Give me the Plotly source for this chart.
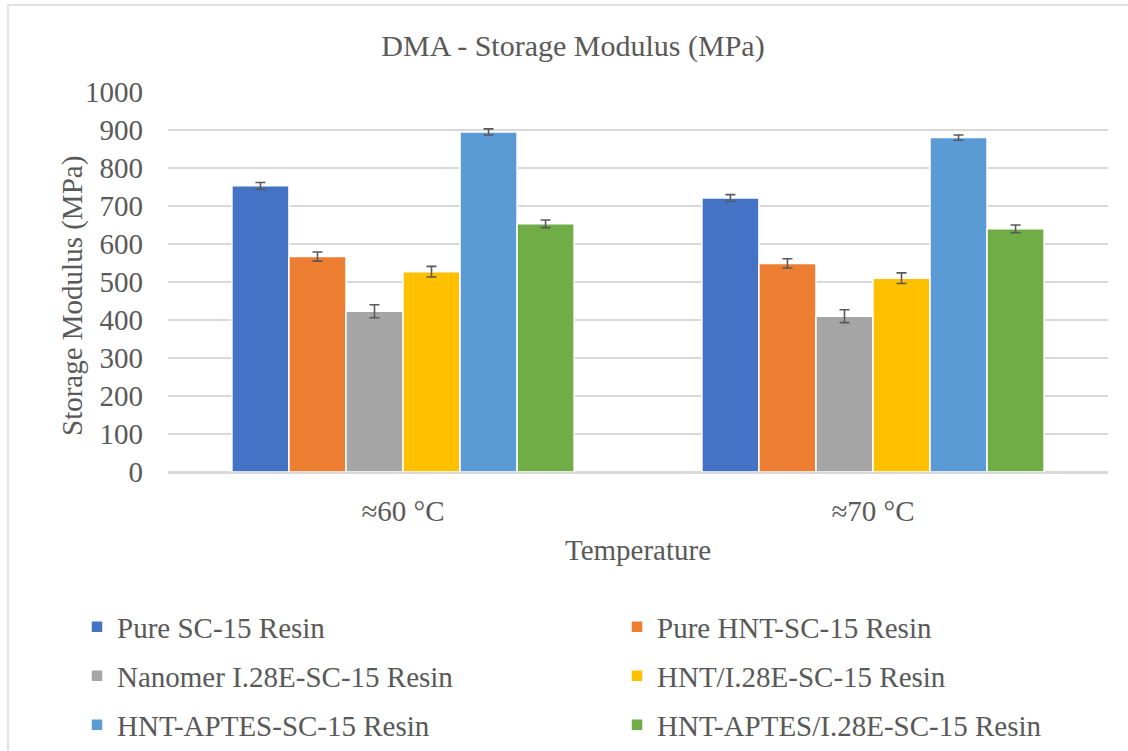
import plotly.graph_objects as go

# Storage modulus (MPa) at two test temperatures, with standard deviations
temperatures = ["≈60 °C", "≈70 °C"]
series_names = [
    "Pure SC-15 Resin",
    "Pure HNT-SC-15 Resin",
    "Nanomer I.28E-SC-15 Resin",
    "HNT/I.28E-SC-15 Resin",
    "HNT-APTES-SC-15 Resin",
    "HNT-APTES/I.28E-SC-15 Resin",
]
pure_sc15 = [753, 721]
pure_hnt = [567, 549]
nanomer = [423, 410]
hnt_i28e = [527, 510]
hnt_aptes = [895, 880]
hnt_aptes_i28e = [653, 640]

pure_sc15_err = [9, 9]
pure_hnt_err = [12, 12]
nanomer_err = [17, 17]
hnt_i28e_err = [14, 14]
hnt_aptes_err = [8, 7]
hnt_aptes_i28e_err = [10, 10]

values = [pure_sc15, pure_hnt, nanomer, hnt_i28e, hnt_aptes, hnt_aptes_i28e]
errors = [pure_sc15_err, pure_hnt_err, nanomer_err, hnt_i28e_err, hnt_aptes_err, hnt_aptes_i28e_err]
colors = ["#4472C4", "#ED7D31", "#A5A5A5", "#FFC000", "#5B9BD5", "#70AD47"]

FONT = "Liberation Serif, Times New Roman, serif"
TEXT = "#595959"
GRID = "#D9D9D9"
FS = 29
W, H = 1128, 751

# one legend box per entry, laid out as a 2-column grid below the plot
legend_ids = ["legend", "legend2", "legend3", "legend4", "legend5", "legend6"]
legend_cols = [77, 617]
legend_rows = [627, 676, 725]

fig = go.Figure()
for name, vals, errs, col, lg in zip(series_names, values, errors, colors, legend_ids):
    fig.add_trace(go.Bar(
        name=name,
        x=temperatures,
        y=vals,
        marker=dict(color=col, line=dict(color="white", width=1.5)),
        error_y=dict(type="data", array=errs, visible=True,
                     color="#595959", thickness=1.6, width=5),
        legend=lg,
        showlegend=True,
    ))

legend_style = dict(
    orientation="h",
    xref="container", yref="container",
    xanchor="left", yanchor="middle",
    font=dict(family=FONT, size=FS, color=TEXT),
    bgcolor="rgba(0,0,0,0)",
    itemclick=False,
    visible=True,
)
legends = {}
for i, lg in enumerate(legend_ids):
    legends[lg] = dict(legend_style,
                       x=legend_cols[i % 2] / W,
                       y=1 - legend_rows[i // 2] / H)

fig.update_layout(
    width=W, height=H,
    showlegend=True,
    paper_bgcolor="white", plot_bgcolor="white",
    margin=dict(l=168, r=20, t=92, b=279),
    barmode="group",
    bargap=0.272,
    bargroupgap=0,
    font=dict(family=FONT, color=TEXT, size=FS),
    title=dict(
        text="DMA - Storage Modulus (MPa)",
        font=dict(family=FONT, size=30, color=TEXT),
        x=573 / W, xanchor="center",
        y=1 - 45 / H, yanchor="middle",
        xref="container", yref="container",
    ),
    xaxis=dict(
        showgrid=False,
        showline=True, linecolor=GRID, linewidth=1.5,
        ticks="", ticklabelstandoff=12,
        tickfont=dict(family=FONT, size=FS, color=TEXT),
        title=dict(text="Temperature", standoff=14,
                   font=dict(family=FONT, size=FS, color=TEXT)),
    ),
    yaxis=dict(
        range=[0, 1000], dtick=100,
        showgrid=True, gridcolor=GRID, gridwidth=1.5,
        zeroline=True, zerolinecolor=GRID, zerolinewidth=1.5,
        ticks="", ticklabelstandoff=24,
        tickfont=dict(family=FONT, size=FS, color=TEXT),
    ),
    annotations=[
        dict(text="Storage Modulus (MPa)", textangle=-90,
             xref="paper", yref="paper",
             x=(72 - 168) / 940, y=(472 - 296) / 380,
             xanchor="center", yanchor="middle", showarrow=False,
             font=dict(family=FONT, size=FS, color=TEXT)),
    ],
    shapes=[
        dict(type="line", xref="paper", yref="paper",
             x0=(8 - 168) / 940, x1=(1140 - 168) / 940,
             y0=(472 - 5) / 380, y1=(472 - 5) / 380,
             line=dict(color=GRID, width=1.5)),
        dict(type="line", xref="paper", yref="paper",
             x0=(8 - 168) / 940, x1=(8 - 168) / 940,
             y0=(472 - 5) / 380, y1=(472 - 760) / 380,
             line=dict(color=GRID, width=1.5)),
    ],
    **legends,
)

fig.write_html("out.html")
